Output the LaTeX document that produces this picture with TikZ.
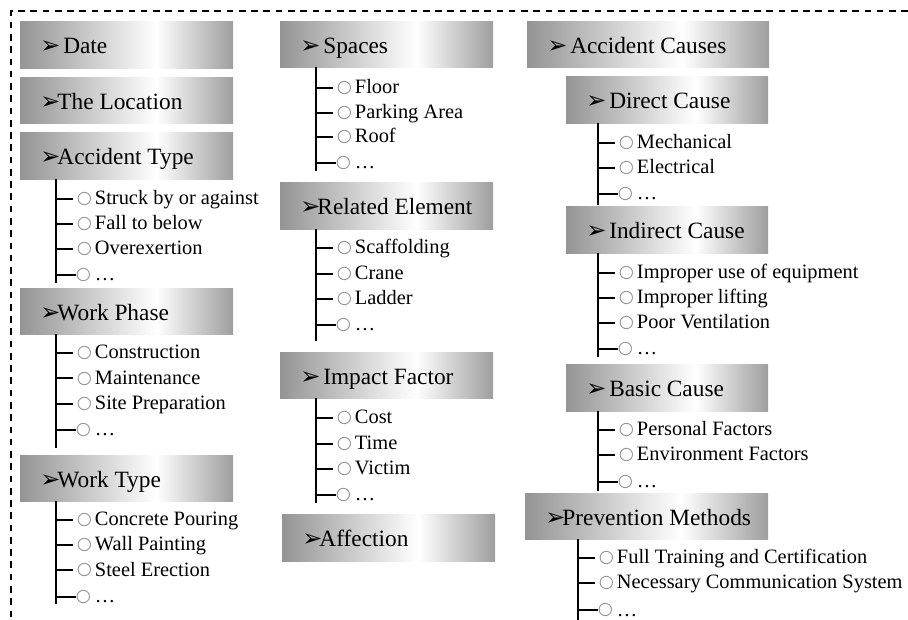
\documentclass[tikz,border=0pt]{standalone}
\usepackage{fontspec}
\setmainfont{Liberation Serif}
\newfontfamily\dv{DejaVu Sans}
\usetikzlibrary{fit}
\pgfdeclarehorizontalshading{boxgrad}{100bp}{color(0bp)=(black!42); color(25bp)=(black!42); color(57bp)=(white); color(75bp)=(black!38); color(100bp)=(black!38)}
\tikzset{
  x=0.75pt, y=-0.75pt,
  hbox/.style={shade, shading=boxgrad, draw=none, inner sep=0pt},
  htxt/.style={anchor=base west, inner sep=0pt, font=\fontsize{17.5}{20}\selectfont},
  itxt/.style={anchor=base west, inner sep=0pt, font=\fontsize{15.3}{18}\selectfont},
  trunk/.style={line width=1.5pt, line cap=rect},
  tick/.style={line width=1.5pt, shorten >=2.6pt},
  tickc/.style={line width=1.5pt},
  border/.style={line width=1.2pt, dash pattern=on 5pt off 4.2pt},
}
\newsavebox\bulbox
\newcommand\bulc{\sbox\bulbox{\color{black!45}\dv\fontsize{13}{13}\selectfont ○}%
  \raisebox{\dimexpr4.5pt-(\ht\bulbox-\dp\bulbox)/2\relax}{\usebox\bulbox}}
\newcommand\arw{{\dv\fontsize{18}{18}\selectfont ➢}\kern-2.2pt}
\newcommand\hdr[6]{%
  \node[hbox, fit={(#2,#3) (#4,#5)}] (#1) {};
  \node[htxt] (#1T) at (#2+20,#3+31.5) {#6};}
\newcommand\leaf[4]{%
  \coordinate (#1J) at (#2,#3);
  \node[itxt] (#1) at (#2+20.5,#3+6) {\bulc\hspace{2.3pt}#4};
  \draw[tick] (#1J) -- (#1J -| #1.west);}
\newcommand\leafe[3]{%
  \coordinate (#1J) at (#2,#3);
  \node[itxt] (#1) at (#2+19.5,#3+6) {\bulc\hspace{3pt}…};
  \draw[tickc] (#1J) -- (#1J -| #1.west);}
\begin{document}
\begin{tikzpicture}
\useasboundingbox (0,0) rectangle (908,620);
\coordinate (bTR) at (908,11);
\coordinate (bTL) at (11,11);
\coordinate (bBL) at (11,620);
\draw[border] (bTR) -- (bTL) -- (bBL);

% ---- column 1
\hdr{date}{20}{22}{233}{69}{\arw\ Date}
\hdr{loc}{20}{78}{233}{124}{\arw The Location}
\hdr{acctype}{20}{133}{233}{180}{\arw Accident Type}
\coordinate (acctypeE) at (56,282);
\draw[trunk] (acctype.south -| acctypeE) -- (acctypeE);
\leaf{at1}{56}{199}{Struck by or against}
\leaf{at2}{56}{224}{Fall to below}
\leaf{at3}{56}{249}{Overexertion}
\leafe{at4}{56}{275}

\hdr{phase}{20}{289}{233}{335}{\arw Work Phase}
\coordinate (phaseE) at (56,447);
\draw[trunk] (phase.south -| phaseE) -- (phaseE);
\leaf{wp1}{56}{353}{Construction}
\leaf{wp2}{56}{378.5}{Maintenance}
\leaf{wp3}{56}{404}{Site Preparation}
\leafe{wp4}{56}{430}

\hdr{wtype}{20}{456}{233}{502}{\arw Work Type}
\coordinate (wtypeE) at (56,603);
\draw[trunk] (wtype.south -| wtypeE) -- (wtypeE);
\leaf{wt1}{56}{520}{Concrete Pouring}
\leaf{wt2}{56}{545}{Wall Painting}
\leaf{wt3}{56}{570}{Steel Erection}
\leafe{wt4}{56}{597}

% ---- column 2
\hdr{spaces}{280}{22}{493}{68}{\arw\ Spaces}
\coordinate (spacesE) at (316,170);
\draw[trunk] (spaces.south -| spacesE) -- (spacesE);
\leaf{sp1}{316}{88}{Floor}
\leaf{sp2}{316}{113}{Parking Area}
\leaf{sp3}{316}{137}{Roof}
\leafe{sp4}{316}{163}

\hdr{relel}{280}{183}{493}{230}{\arw Related Element}
\coordinate (relelE) at (316,340);
\draw[trunk] (relel.south -| relelE) -- (relelE);
\leaf{re1}{316}{248}{Scaffolding}
\leaf{re2}{316}{274}{Crane}
\leaf{re3}{316}{299}{Ladder}
\leafe{re4}{316}{325}

\hdr{impact}{280}{353}{493}{399}{\arw\ Impact Factor}
\coordinate (impactE) at (316,502);
\draw[trunk] (impact.south -| impactE) -- (impactE);
\leaf{if1}{316}{418}{Cost}
\leaf{if2}{316}{444}{Time}
\leaf{if3}{316}{469}{Victim}
\leafe{if4}{316}{495}

\hdr{affect}{282}{515}{495}{562}{\arw Affection}

% ---- column 3
\hdr{causes}{527}{22}{769}{68}{\arw\ Accident Causes}

\hdr{direct}{566}{77}{768}{124}{\arw\ Direct Cause}
\coordinate (directE) at (598,204);
\draw[trunk] (direct.south -| directE) -- (directE);
\leaf{dc1}{598}{143}{Mechanical}
\leaf{dc2}{598}{168}{Electrical}
\leafe{dc3}{598}{194}

\hdr{indirect}{566}{207}{768}{254}{\arw\ Indirect Cause}
\coordinate (indirectE) at (598,356);
\draw[trunk] (indirect.south -| indirectE) -- (indirectE);
\leaf{ic1}{598}{273}{Improper use of equipment}
\leaf{ic2}{598}{298}{Improper lifting}
\leaf{ic3}{598}{323}{Poor Ventilation}
\leafe{ic4}{598}{349}

\hdr{basic}{566}{365}{768}{412}{\arw\ Basic Cause}
\coordinate (basicE) at (598,490);
\draw[trunk] (basic.south -| basicE) -- (basicE);
\leaf{bc1}{598}{430}{Personal Factors}
\leaf{bc2}{598}{455}{Environment Factors}
\leafe{bc3}{598}{482}

\hdr{prev}{525}{494}{768}{540}{\arw Prevention Methods}
\coordinate (prevE) at (578,620);
\draw[trunk] (prev.south -| prevE) -- (prevE);
\leaf{pm1}{578}{558}{Full Training and Certification}
\leaf{pm2}{578}{583}{Necessary Communication System}
\leafe{pm3}{578}{610}
\end{tikzpicture}
\end{document}
